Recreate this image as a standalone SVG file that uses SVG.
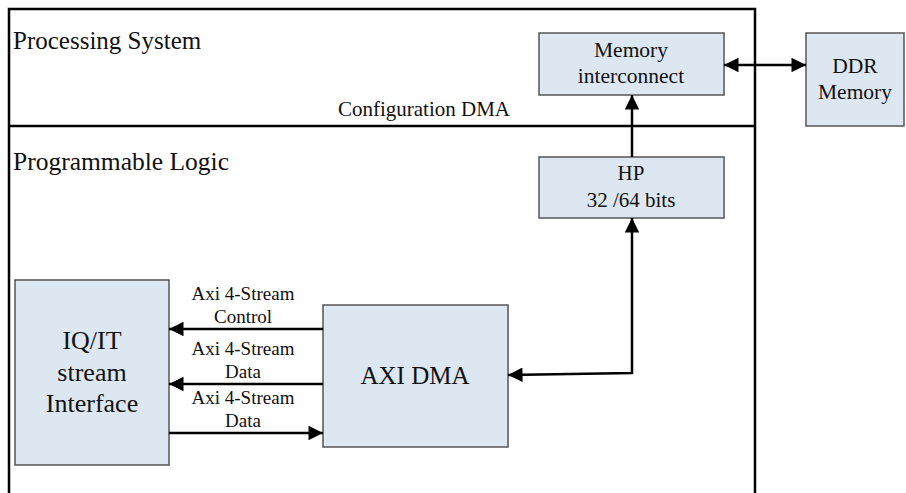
<svg xmlns="http://www.w3.org/2000/svg" width="906" height="493" viewBox="0 0 906 493">
<style>
.box{fill:#dde7f1;stroke:#555;stroke-width:1.5}
.frame{fill:none;stroke:#000;stroke-width:2.5}
text{font-family:'Liberation Serif','Times New Roman',Tinos,'DejaVu Serif',serif;fill:#111}
.t{text-anchor:middle}
.c{fill:none;stroke:#000;stroke-width:2.5}
</style>
<defs>
<marker id="ah" viewBox="0 0 10 10" refX="10" refY="5" markerWidth="7.6" markerHeight="5.8" markerUnits="strokeWidth" orient="auto-start-reverse">
<path d="M0,0 L10,5 L0,10 z" fill="#000"/>
</marker>
</defs>
<g id="frames">
<path class="frame" d="M9,493 L9,9 L755,9 L755,493"/>
<line class="frame" x1="9" y1="126" x2="755" y2="126"/>
<text x="13" y="49" font-size="25">Processing System</text>
<text x="13" y="170" font-size="25.5">Programmable Logic</text>
<text class="t" x="424" y="116" font-size="21">Configuration DMA</text>
</g>
<g id="mem">
<rect class="box" x="539" y="33" width="185" height="62"/>
<text class="t" x="631" y="57" font-size="21.5">Memory</text>
<text class="t" x="631" y="83" font-size="21.5">interconnect</text>
</g>
<g id="ddr">
<rect class="box" x="806" y="33" width="98" height="93"/>
<text class="t" x="855" y="73" font-size="21.5">DDR</text>
<text class="t" x="855" y="99" font-size="21.5">Memory</text>
</g>
<g id="hp">
<rect class="box" x="539" y="157" width="185" height="61"/>
<text class="t" x="631" y="180" font-size="21">HP</text>
<text class="t" x="631" y="207" font-size="21">32 /64 bits</text>
</g>
<g id="iqit">
<rect class="box" x="15" y="280" width="154" height="185"/>
<text class="t" x="92" y="349" font-size="26">IQ/IT</text>
<text class="t" x="92" y="381" font-size="26">stream</text>
<text class="t" x="92" y="412" font-size="26">Interface</text>
</g>
<g id="axidma">
<rect class="box" x="323" y="305" width="185" height="142"/>
<text class="t" x="415" y="384" font-size="25">AXI DMA</text>
</g>
<g id="connectors">
<line class="c" x1="724" y1="65" x2="806" y2="65" marker-start="url(#ah)" marker-end="url(#ah)"/>
<line class="c" x1="632" y1="157" x2="632" y2="95" marker-end="url(#ah)"/>
<polyline class="c" points="508,375 632,373 632,218" marker-start="url(#ah)" marker-end="url(#ah)"/>
<line class="c" x1="323" y1="329" x2="169" y2="329" marker-end="url(#ah)"/>
<line class="c" x1="323" y1="384" x2="169" y2="384" marker-end="url(#ah)"/>
<line class="c" x1="169" y1="433" x2="323" y2="433" marker-end="url(#ah)"/>
<text class="t" x="243" y="300" font-size="19">Axi 4-Stream</text>
<text class="t" x="243" y="323" font-size="19">Control</text>
<text class="t" x="243" y="355" font-size="19">Axi 4-Stream</text>
<text class="t" x="243" y="378" font-size="19">Data</text>
<text class="t" x="243" y="404" font-size="19">Axi 4-Stream</text>
<text class="t" x="243" y="427" font-size="19">Data</text>
</g>
</svg>
